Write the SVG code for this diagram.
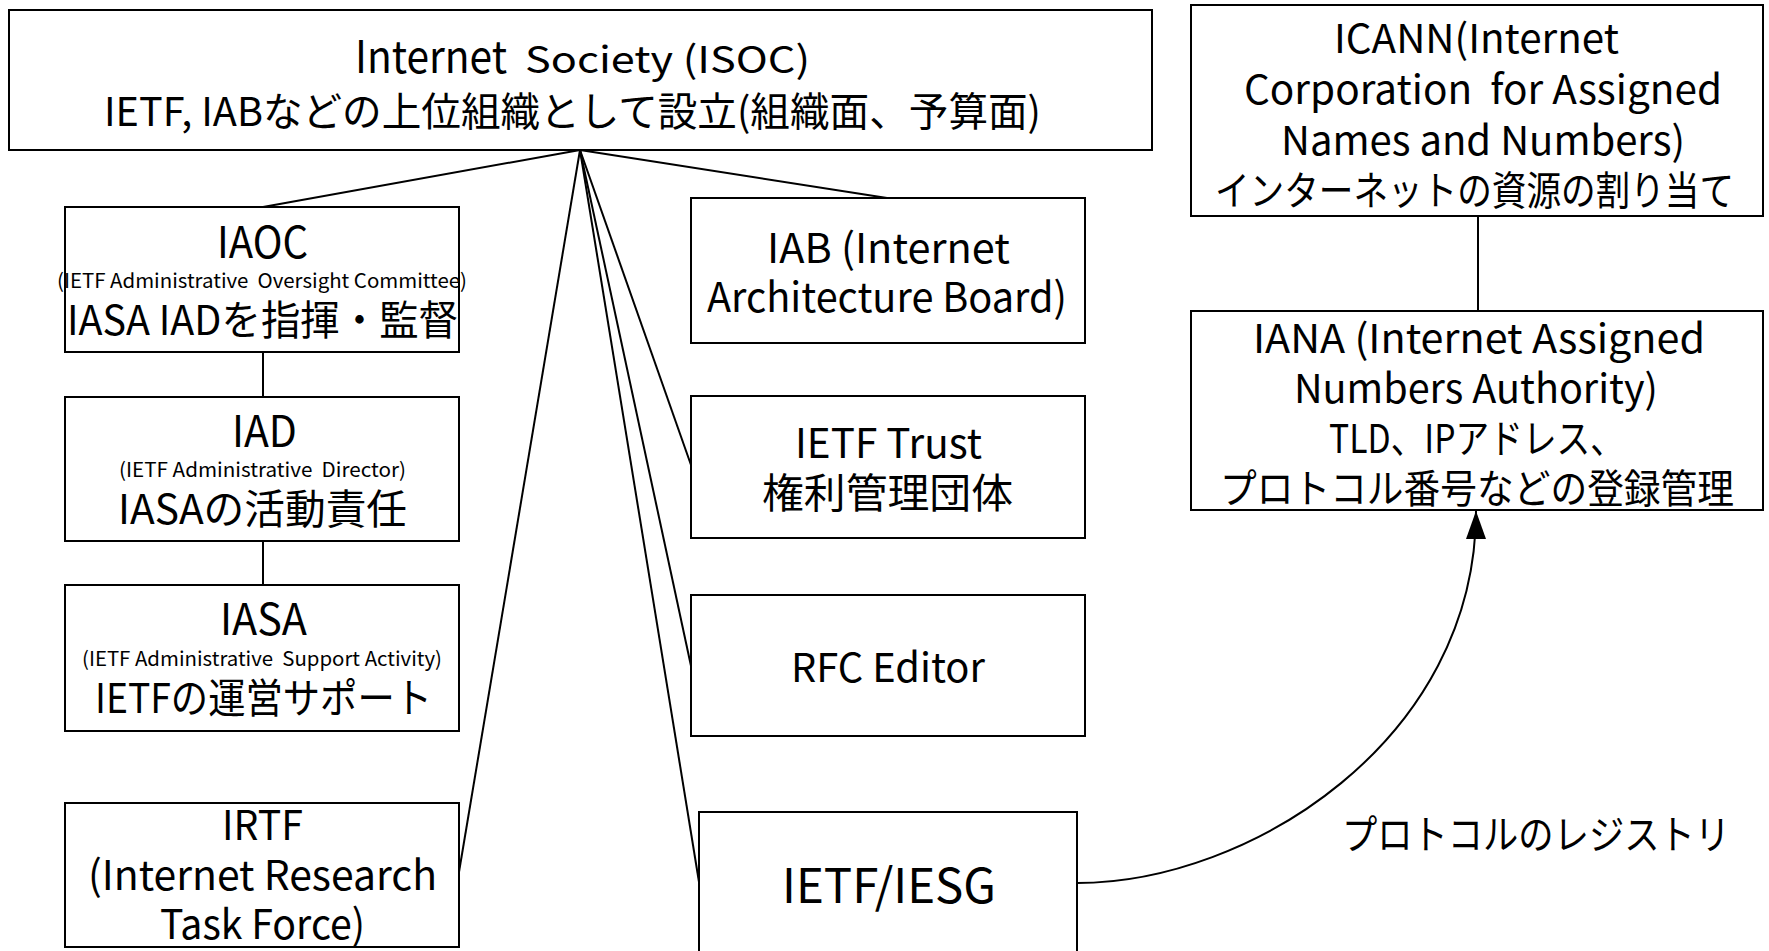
<svg xmlns="http://www.w3.org/2000/svg" width="1769" height="951" viewBox="0 0 1769 951">
<style>
  .box { fill: #ffffff; stroke: #000000; stroke-width: 2; }
  .ln { fill: none; stroke: #000000; stroke-width: 2; }
  text { font-family: "Noto Sans CJK JP", "Noto Sans", sans-serif; fill: #000000; white-space: pre; }
  .f45 { font-size: 45px; }
  .f37 { font-size: 37px; }
  .f39 { font-size: 40px; }
  .f40 { font-size: 40px; }
  .f41 { font-size: 41px; }
  .f43 { font-size: 43px; }
  .f48 { font-size: 48px; }
  .f20 { font-size: 20px; }
</style>
<defs>
  <marker id="arrowBig" viewBox="0 0 28 20" refX="28" refY="10" markerWidth="28" markerHeight="20" markerUnits="userSpaceOnUse" orient="auto">
    <path d="M0,0 L28,10 L0,20 Z" fill="#000000"/>
  </marker>
</defs>

<g id="connectors">
  <line class="ln" x1="580" y1="150" x2="263" y2="207"/>
  <line class="ln" x1="580" y1="150" x2="887" y2="198"/>
  <line class="ln" x1="580" y1="150" x2="459" y2="872"/>
  <line class="ln" x1="580" y1="150" x2="691" y2="465"/>
  <line class="ln" x1="580" y1="150" x2="691" y2="666"/>
  <line class="ln" x1="580" y1="150" x2="699" y2="882"/>
  <line class="ln" x1="263" y1="352" x2="263" y2="397"/>
  <line class="ln" x1="263" y1="541" x2="263" y2="585"/>
  <line class="ln" x1="1478" y1="216" x2="1478" y2="311"/>
  <path class="ln" d="M1077,883 C1250,883 1476,740 1476,511" marker-end="url(#arrowBig)"/>
  <text id="registry-label" class="f40" x="1342" y="849" textLength="388" lengthAdjust="spacingAndGlyphs">プロトコルのレジストリ</text>
</g>

<g id="isoc">
  <rect class="box" x="9" y="10" width="1143" height="140"/>
  <text class="f45" x="355" y="73" textLength="152" lengthAdjust="spacingAndGlyphs">Internet</text>
  <text class="f37" x="525" y="73" textLength="285" lengthAdjust="spacingAndGlyphs">Society (ISOC)</text>
  <text class="f39" x="104" y="126" textLength="937" lengthAdjust="spacingAndGlyphs">IETF, IABなどの上位組織として設立(組織面、予算面)</text>
</g>

<g id="icann">
  <rect class="box" x="1191" y="5" width="572" height="211"/>
  <text class="f40" x="1334" y="53" textLength="285" lengthAdjust="spacingAndGlyphs">ICANN(Internet</text>
  <text class="f40" x="1244" y="104" textLength="478" lengthAdjust="spacingAndGlyphs">Corporation  for Assigned</text>
  <text class="f40" x="1281" y="155" textLength="404" lengthAdjust="spacingAndGlyphs">Names and Numbers)</text>
  <text class="f40" x="1215" y="205" textLength="519" lengthAdjust="spacingAndGlyphs">インターネットの資源の割り当て</text>
</g>

<g id="iana">
  <rect class="box" x="1191" y="311" width="572" height="199"/>
  <text class="f40" x="1253" y="353" textLength="452" lengthAdjust="spacingAndGlyphs">IANA (Internet Assigned</text>
  <text class="f40" x="1294" y="403" textLength="364" lengthAdjust="spacingAndGlyphs">Numbers Authority)</text>
  <text class="f40" x="1329" y="453" textLength="295" lengthAdjust="spacingAndGlyphs">TLD、IPアドレス、</text>
  <text class="f40" x="1220" y="503" textLength="514" lengthAdjust="spacingAndGlyphs">プロトコル番号などの登録管理</text>
</g>

<g id="iaoc">
  <rect class="box" x="65" y="207" width="394" height="145"/>
  <text class="f43" x="217" y="258" textLength="91" lengthAdjust="spacingAndGlyphs">IAOC</text>
  <text class="f20" x="57" y="288" textLength="410" lengthAdjust="spacingAndGlyphs">(IETF Administrative  Oversight Committee)</text>
  <text class="f41" x="67" y="335" textLength="391" lengthAdjust="spacingAndGlyphs">IASA IADを指揮・監督</text>
</g>

<g id="iad">
  <rect class="box" x="65" y="397" width="394" height="144"/>
  <text class="f43" x="232" y="447" textLength="65" lengthAdjust="spacingAndGlyphs">IAD</text>
  <text class="f20" x="119" y="477" textLength="287" lengthAdjust="spacingAndGlyphs">(IETF Administrative  Director)</text>
  <text class="f41" x="118" y="524" textLength="289" lengthAdjust="spacingAndGlyphs">IASAの活動責任</text>
</g>

<g id="iasa">
  <rect class="box" x="65" y="585" width="394" height="146"/>
  <text class="f43" x="220" y="635" textLength="87" lengthAdjust="spacingAndGlyphs">IASA</text>
  <text class="f20" x="82" y="666" textLength="360" lengthAdjust="spacingAndGlyphs">(IETF Administrative  Support Activity)</text>
  <text class="f41" x="95" y="713" textLength="337" lengthAdjust="spacingAndGlyphs">IETFの運営サポート</text>
</g>

<g id="irtf">
  <rect class="box" x="65" y="803" width="394" height="144"/>
  <text class="f41" x="222" y="840" textLength="81" lengthAdjust="spacingAndGlyphs">IRTF</text>
  <text class="f41" x="88" y="890" textLength="349" lengthAdjust="spacingAndGlyphs">(Internet Research</text>
  <text class="f41" x="160" y="939" textLength="205" lengthAdjust="spacingAndGlyphs">Task Force)</text>
</g>

<g id="iab">
  <rect class="box" x="691" y="198" width="394" height="145"/>
  <text class="f41" x="767" y="263" textLength="243" lengthAdjust="spacingAndGlyphs">IAB (Internet</text>
  <text class="f41" x="707" y="312" textLength="360" lengthAdjust="spacingAndGlyphs">Architecture Board)</text>
</g>

<g id="ietf-trust">
  <rect class="box" x="691" y="396" width="394" height="142"/>
  <text class="f41" x="795" y="458" textLength="187" lengthAdjust="spacingAndGlyphs">IETF Trust</text>
  <text class="f41" x="762" y="508" textLength="251" lengthAdjust="spacingAndGlyphs">権利管理団体</text>
</g>

<g id="rfc-editor">
  <rect class="box" x="691" y="595" width="394" height="141"/>
  <text class="f40" x="791" y="682" textLength="194" lengthAdjust="spacingAndGlyphs">RFC Editor</text>
</g>

<g id="ietf-iesg">
  <rect class="box" x="699" y="812" width="378" height="150"/>
  <text class="f48" x="782" y="903" textLength="214" lengthAdjust="spacingAndGlyphs">IETF/IESG</text>
</g>
</svg>
